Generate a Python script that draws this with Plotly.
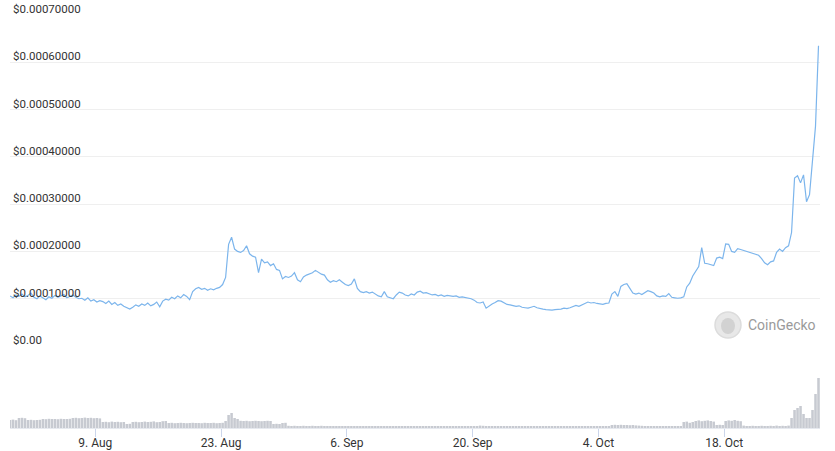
import pandas as pd
import plotly.graph_objects as go

# ---- data ----
start_time = "2021-07-30 12:00"
step = "8h"

# price in units of 1e-4 USD, one value every 8 hours
price_e4 = [
    1.06, 1.02, 1.08, 1.05, 1.10, 1.04, 1.07, 1.12, 1.03, 1.00,
    1.06, 1.02, 0.98, 1.04, 1.01, 1.07, 1.03, 1.06, 1.09, 1.02,
    1.05, 1.08, 1.03, 1.00, 1.01, 0.97, 1.02, 0.95, 0.98, 0.93,
    0.96, 0.94, 0.90, 0.95, 0.88, 0.92, 0.86, 0.89, 0.84, 0.81,
    0.78, 0.82, 0.87, 0.84, 0.89, 0.86, 0.91, 0.85, 0.88, 0.93,
    0.83, 0.95, 0.99, 0.97, 1.03, 1.00, 1.06, 1.02, 1.09, 1.05,
    0.98, 1.15, 1.21, 1.24, 1.20, 1.22, 1.18, 1.21, 1.19, 1.22,
    1.24, 1.30, 1.45, 2.15, 2.30, 2.05, 2.00, 1.98, 2.02, 2.12,
    1.95, 1.90, 1.88, 1.55, 1.84, 1.76, 1.78, 1.70, 1.74, 1.62,
    1.60, 1.42, 1.47, 1.45, 1.48, 1.55, 1.40, 1.36, 1.46, 1.50,
    1.52, 1.55, 1.60, 1.56, 1.52, 1.50, 1.40, 1.35, 1.38, 1.36,
    1.40, 1.35, 1.30, 1.28, 1.31, 1.42, 1.22, 1.15, 1.13, 1.15,
    1.12, 1.14, 1.10, 1.06, 1.04, 1.15, 1.04, 1.02, 1.00, 1.08,
    1.14, 1.12, 1.08, 1.06, 1.10, 1.08, 1.14, 1.16, 1.12, 1.13,
    1.10, 1.08, 1.09, 1.06, 1.08, 1.05, 1.07, 1.06, 1.05, 1.06,
    1.03, 1.04, 1.03, 1.02, 1.00, 0.97, 0.92, 0.91, 0.93, 0.80,
    0.85, 0.89, 0.92, 0.96, 0.95, 0.92, 0.88, 0.87, 0.86, 0.84,
    0.85, 0.82, 0.81, 0.80, 0.82, 0.84, 0.81, 0.79, 0.78, 0.77,
    0.76, 0.76, 0.77, 0.77, 0.78, 0.80, 0.79, 0.81, 0.84, 0.86,
    0.84, 0.87, 0.89, 0.93, 0.91, 0.92, 0.90, 0.89, 0.88, 0.90,
    0.91, 1.10, 1.15, 1.05, 1.26, 1.30, 1.32, 1.22, 1.12, 1.10,
    1.12, 1.09, 1.13, 1.17, 1.15, 1.12, 1.06, 1.04, 1.06, 1.05,
    1.11, 1.03, 1.02, 1.01, 1.02, 1.04, 1.25, 1.33, 1.48, 1.58,
    1.68, 2.08, 1.75, 1.74, 1.72, 1.70, 1.86, 1.88, 1.85, 2.16,
    2.15, 2.00, 1.98, 2.06, 2.04, 2.02, 2.00, 1.97, 1.96, 1.93,
    1.92, 1.85, 1.76, 1.72, 1.78, 1.80, 1.98, 2.05, 2.00, 2.08,
    2.12, 2.40, 3.55, 3.60, 3.45, 3.62, 3.05, 3.20, 3.95, 4.65,
    6.35,
]

# 24h volume in millions USD, one value every 8 hours
volume_musd = [
    4.0, 4.2, 3.9, 5.0, 5.1, 4.9, 4.0, 4.1, 3.9, 4.0,
    4.1, 4.5, 4.4, 4.6, 4.5, 4.5, 4.4, 4.6, 4.5, 4.5,
    4.6, 5.0, 5.1, 4.9, 5.0, 5.2, 5.0, 5.1, 4.9, 5.0,
    4.8, 3.0, 3.1, 2.9, 3.2, 3.0, 3.1, 2.9, 3.0, 2.0,
    2.1, 3.0, 3.1, 2.9, 3.0, 3.2, 3.0, 3.1, 3.3, 2.9,
    3.0, 3.4, 3.5, 2.5, 2.6, 2.4, 2.5, 2.6, 2.5, 2.4,
    2.5, 2.6, 2.5, 2.5, 2.4, 2.6, 2.5, 2.5, 2.6, 2.4,
    2.5, 2.6, 3.5, 6.5, 7.5, 5.0, 4.5, 3.6, 3.5, 3.6,
    3.4, 3.5, 3.6, 3.5, 3.4, 3.5, 3.6, 3.5, 2.0, 2.1,
    2.0, 2.5, 2.6, 1.1, 1.0, 1.1, 1.0, 1.0, 1.1, 1.0,
    1.0, 1.1, 1.0, 1.0, 1.1, 1.0, 1.0, 1.0, 0.8, 0.7,
    0.7, 0.8, 0.7, 0.7, 0.7, 0.8, 0.7, 0.7, 0.7, 0.7,
    0.8, 0.7, 0.7, 0.7, 0.7, 0.8, 0.7, 0.7, 0.7, 0.7,
    0.7, 0.7, 0.7, 0.8, 0.7, 0.7, 0.7, 0.7, 0.7, 0.7,
    0.7, 0.7, 0.7, 0.7, 0.7, 0.7, 0.7, 0.7, 0.7, 0.7,
    0.7, 0.7, 0.7, 0.7, 0.7, 0.7, 1.0, 1.2, 1.1, 0.8,
    0.7, 0.7, 0.7, 0.7, 0.7, 0.7, 0.7, 0.7, 0.7, 0.7,
    0.7, 0.7, 0.7, 0.7, 0.7, 0.7, 0.7, 0.7, 0.7, 0.7,
    0.7, 0.7, 0.7, 0.7, 0.7, 0.7, 0.7, 0.7, 0.7, 0.7,
    0.7, 0.7, 0.7, 0.7, 0.7, 0.7, 0.7, 0.8, 0.8, 0.8,
    0.8, 1.5, 1.6, 1.5, 1.6, 1.5, 1.5, 1.4, 1.5, 1.3,
    1.2, 1.1, 1.0, 0.6, 0.6, 0.7, 0.6, 0.6, 0.6, 0.7,
    0.6, 0.6, 0.6, 0.6, 0.6, 3.0, 3.2, 2.6, 3.0, 3.5,
    3.8, 3.4, 3.6, 3.8, 3.5, 3.2, 1.5, 1.6, 1.5, 3.5,
    3.8, 3.6, 4.0, 3.6, 3.4, 1.2, 1.0, 1.0, 1.1, 1.0,
    1.0, 1.1, 1.0, 1.0, 1.1, 1.0, 1.2, 1.0, 1.1, 1.0,
    1.2, 5.0, 9.0, 10.0, 11.0, 7.0, 5.0, 5.0, 9.0, 17.0,
    25.0,
]

y_tick_values = [0, 0.0001, 0.0002, 0.0003, 0.0004, 0.0005, 0.0006, 0.0007]
y_tick_labels = ["$0.00", "$0.00010000", "$0.00020000", "$0.00030000",
                 "$0.00040000", "$0.00050000", "$0.00060000", "$0.00070000"]
x_tick_dates = ["2021-08-09", "2021-08-23", "2021-09-06", "2021-09-20",
                "2021-10-04", "2021-10-18"]
x_tick_labels = ["9. Aug", "23. Aug", "6. Sep", "20. Sep", "4. Oct", "18. Oct"]

times = pd.date_range(start=start_time, periods=len(price_e4), freq=step)
price = [v * 1e-4 for v in price_e4]

FONT = "Roboto, 'Liberation Sans', sans-serif"

fig = go.Figure()
fig.add_trace(go.Bar(
    x=times, y=volume_musd, xaxis="x", yaxis="y2",
    marker=dict(color="#c7cad1", line=dict(width=0)),
    hoverinfo="skip", showlegend=False,
))
fig.add_trace(go.Scatter(
    x=times, y=price, xaxis="x", yaxis="y", mode="lines",
    line=dict(color="#7cb5ec", width=1.2), showlegend=False,
))

fig.update_layout(
    template="none",
    width=835, height=451,
    margin=dict(l=10, r=15, t=15, b=23, autoexpand=False),
    paper_bgcolor="white", plot_bgcolor="white",
    bargap=0.15,
    font=dict(family=FONT, size=12, color="#333333"),
    xaxis=dict(
        anchor="y2", automargin=False,
        range=["2021-07-30 12:00", "2021-10-28 16:00"],
        tickvals=x_tick_dates, ticktext=x_tick_labels,
        ticks="outside", ticklen=8, tickcolor="#ccd6eb", tickwidth=1,
        ticklabelstandoff=-4,
        showgrid=False, zeroline=False,
        showline=True, linecolor="#e6e9ef", linewidth=1,
        tickfont=dict(family=FONT, size=12, color="#333333"),
    ),
    yaxis=dict(
        domain=[0.1985, 1], range=[0, 0.0007], automargin=False,
        tickvals=y_tick_values, ticktext=y_tick_labels,
        ticklabelposition="inside", ticklabelshift=-6,
        ticklabeloverflow="allow",
        ticks="", showgrid=True, gridcolor="#efefef", gridwidth=1,
        zeroline=False, showline=False,
        tickfont=dict(family=FONT, size=11.5, color="#333333"),
    ),
    yaxis2=dict(
        domain=[0, 0.1985], range=[0, 41], automargin=False,
        showticklabels=False, showgrid=False, zeroline=False, ticks="",
    ),
    shapes=[
        dict(type="circle", xref="paper", yref="paper",
             x0=(715 - 10) / 810, x1=(741 - 10) / 810,
             y0=(428 - 338) / 413, y1=(428 - 312) / 413,
             fillcolor="#e8e8e8", line=dict(color="#dcdcdc", width=1.5)),
        dict(type="circle", xref="paper", yref="paper",
             x0=(721 - 10) / 810, x1=(735 - 10) / 810,
             y0=(428 - 334) / 413, y1=(428 - 318) / 413,
             fillcolor="#d2d2d2", line=dict(width=0)),
    ],
    annotations=[
        dict(text="CoinGecko", xref="paper", yref="paper",
             x=(746 - 10) / 810, y=(428 - 325) / 413,
             xanchor="left", yanchor="middle", showarrow=False,
             font=dict(family=FONT, size=14, color="#9a9a9a")),
    ],
)

fig.write_html("out.html", config={"displayModeBar": False},
               post_script="document.body.style.margin='0';")
